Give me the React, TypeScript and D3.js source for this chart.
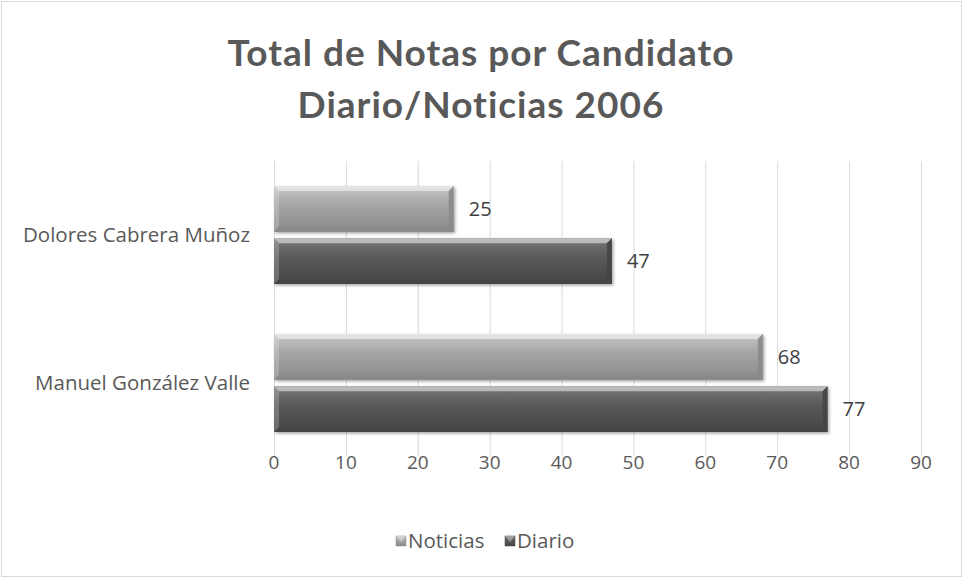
import React, { useEffect, useRef } from "react";
import * as d3 from "d3";

const candidates = ["Dolores Cabrera Muñoz", "Manuel González Valle"];
const seriesNames = ["Noticias", "Diario"];
const noticias = [25, 68];
const diario = [47, 77];
const xTicks = [0, 10, 20, 30, 40, 50, 60, 70, 80, 90];
const titleLines = ["Total de Notas por Candidato", "Diario/Noticias 2006"];

const W = 963;
const H = 578;
const TITLE_FONT = "Lato, 'Open Sans', sans-serif";
const FONT = "'Open Sans', Lato, sans-serif";
const TEXT = "#595959";

// base colour / light / dark per series
const palette: Record<string, { base: string; light: string; dark: string }> = {
  Noticias: { base: "#a6a6a6", light: "#c8c8c8", dark: "#8a8a8a" },
  Diario: { base: "#5a5a5a", light: "#7a7a7a", dark: "#454545" },
};

function App() {
  const ref = useRef<SVGSVGElement>(null);

  useEffect(() => {
    const svg = d3.select(ref.current);
    svg.selectAll("*").remove();

    const values: Record<string, number[]> = { Noticias: noticias, Diario: diario };

    const x = d3.scaleLinear().domain([0, 90]).range([274, 921]);
    const y0 = d3.scaleBand().domain(candidates).range([161, 457]).paddingInner(0.338).paddingOuter(0.169);
    const y1 = d3.scaleBand().domain(seriesNames).range([0, y0.bandwidth()]).paddingInner(0.12);

    const defs = svg.append("defs");
    seriesNames.forEach(s => {
      const p = palette[s];
      const g = defs.append("linearGradient")
        .attr("id", "grad-" + s)
        .attr("x1", 0).attr("y1", 0).attr("x2", 0).attr("y2", 1);
      g.append("stop").attr("offset", 0).attr("stop-color", p.light);
      g.append("stop").attr("offset", 0.4).attr("stop-color", p.base);
      g.append("stop").attr("offset", 1).attr("stop-color", p.dark);
    });
    const sh = defs.append("filter").attr("id", "shadow")
      .attr("x", "-5%").attr("y", "-20%").attr("width", "115%").attr("height", "150%");
    sh.append("feDropShadow").attr("dx", 1.5).attr("dy", 1.5).attr("stdDeviation", 1.5)
      .attr("flood-color", "#000").attr("flood-opacity", 0.35);

    // outer border
    svg.append("rect")
      .attr("x", 1.5).attr("y", 1.5).attr("width", W - 3).attr("height", H - 3)
      .attr("fill", "#fff").attr("stroke", "#d9d9d9");

    // title
    svg.append("g").selectAll("text")
      .data(titleLines)
      .join("text")
      .attr("x", 481)
      .attr("y", (d, i) => 66 + i * 52)
      .attr("text-anchor", "middle")
      .attr("font-family", TITLE_FONT)
      .attr("font-weight", "bold")
      .attr("font-size", 37)
      .attr("letter-spacing", 1)
      .attr("fill", TEXT)
      .text(d => d);

    // grid
    svg.append("g").selectAll("line")
      .data(xTicks)
      .join("line")
      .attr("x1", d => x(d) + 0.5).attr("x2", d => x(d) + 0.5)
      .attr("y1", 161).attr("y2", 456)
      .attr("stroke", "#d9d9d9");

    // tick labels
    svg.append("g").selectAll("text")
      .data(xTicks)
      .join("text")
      .attr("x", d => x(d))
      .attr("y", 469)
      .attr("text-anchor", "middle")
      .attr("font-family", FONT)
      .attr("font-size", 19)
      .attr("fill", TEXT)
      .text(d => d);

    // category labels
    svg.append("g").selectAll("text")
      .data(candidates)
      .join("text")
      .attr("x", 250)
      .attr("y", d => y0(d)! + y0.bandwidth() / 2 + 7)
      .attr("text-anchor", "end")
      .attr("font-family", FONT)
      .attr("font-size", 20.5)
      .attr("fill", TEXT)
      .text(d => d);

    // bars
    const bev = 5;
    const bars = candidates.flatMap((c, i) => seriesNames.map(s => ({ c, s, v: values[s][i] })));
    const bg = svg.append("g").selectAll("g").data(bars).join("g");
    bg.each(function (d) {
      const g = d3.select(this);
      const bx = x(0), by = y0(d.c)! + y1(d.s)!;
      const bw = x(d.v) - x(0), bh = y1.bandwidth();
      const p = palette[d.s];
      g.append("rect")
        .attr("x", bx).attr("y", by).attr("width", bw).attr("height", bh)
        .attr("fill", `url(#grad-${d.s})`)
        .attr("filter", "url(#shadow)");
      // bevel edges
      g.append("path")
        .attr("d", `M${bx},${by}L${bx + bw},${by}L${bx + bw - bev},${by + bev}L${bx + bev},${by + bev}Z`)
        .attr("fill", "#fff").attr("opacity", 0.5);
      g.append("path")
        .attr("d", `M${bx},${by + bh}L${bx + bw},${by + bh}L${bx + bw - bev},${by + bh - bev}L${bx + bev},${by + bh - bev}Z`)
        .attr("fill", p.dark).attr("opacity", 0.8);
      g.append("path")
        .attr("d", `M${bx + bw},${by}L${bx + bw},${by + bh}L${bx + bw - bev},${by + bh - bev}L${bx + bw - bev},${by + bev}Z`)
        .attr("fill", p.dark).attr("opacity", 0.9);
      g.append("path")
        .attr("d", `M${bx},${by}L${bx},${by + bh}L${bx + bev},${by + bh - bev}L${bx + bev},${by + bev}Z`)
        .attr("fill", "#fff").attr("opacity", 0.2);
      g.append("text")
        .attr("x", x(d.v) + 15)
        .attr("y", by + bh / 2 + 7)
        .attr("font-family", FONT)
        .attr("font-size", 20)
        .attr("fill", "#404040")
        .text(d.v);
    });

    // legend
    const legendX = [396, 505];
    const lg = svg.append("g").selectAll("g")
      .data(seriesNames)
      .join("g")
      .attr("transform", (d, i) => `translate(${legendX[i]},541)`);
    lg.append("rect")
      .attr("x", 0).attr("y", -5).attr("width", 10).attr("height", 10)
      .attr("fill", d => `url(#grad-${d})`)
      .attr("stroke", d => palette[d].dark).attr("stroke-width", 0.5);
    lg.append("path")
      .attr("d", "M0,-5L10,-5L5,1Z")
      .attr("fill", "#fff").attr("opacity", 0.35);
    lg.append("text")
      .attr("x", 12).attr("y", 7)
      .attr("font-family", FONT)
      .attr("font-size", 20.5)
      .attr("fill", TEXT)
      .text(d => d);
  }, []);

  return (
    <svg ref={ref} width={W} height={H} style={{ position: "absolute", left: 0, top: 0 }} />
  );
}

export default App;
